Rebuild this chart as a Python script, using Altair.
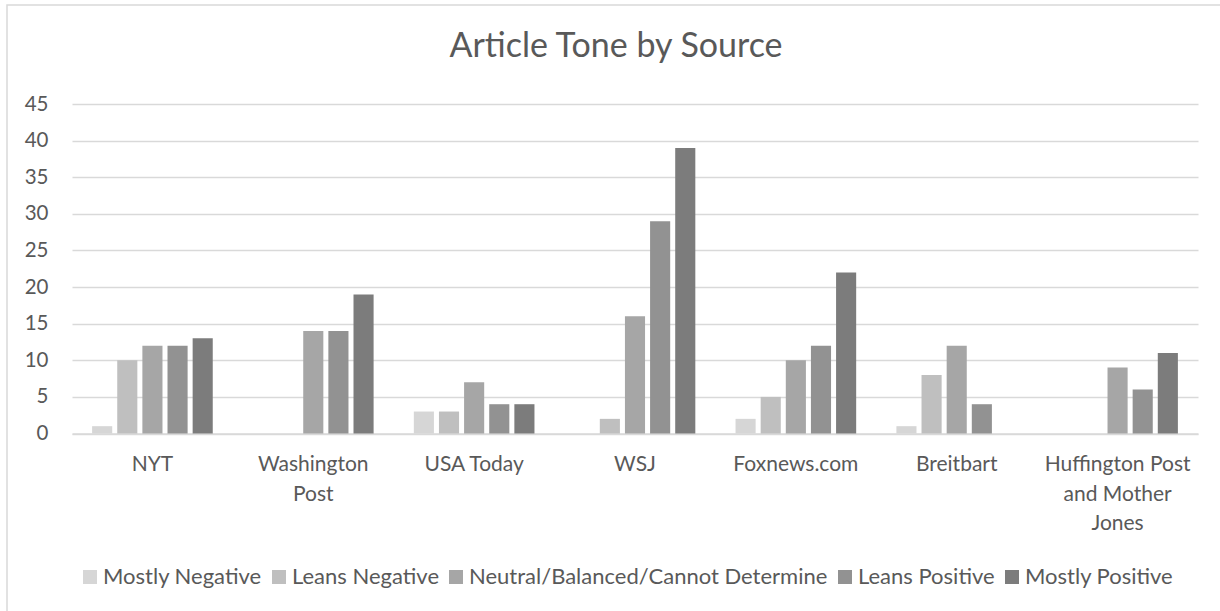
import altair as alt
import pandas as pd

sources = ["NYT", "Washington Post", "USA Today", "WSJ", "Foxnews.com",
           "Breitbart", "Huffington Post and Mother Jones"]
tones = ["Mostly Negative", "Leans Negative", "Neutral/Balanced/Cannot Determine",
         "Leans Positive", "Mostly Positive"]
colors = ["#d6d6d6", "#bfbfbf", "#a6a6a6", "#929292", "#7c7c7c"]

mostly_negative = [1, 0, 3, 0, 2, 1, 0]
leans_negative = [10, 0, 3, 2, 5, 8, 0]
neutral = [12, 14, 7, 16, 10, 12, 9]
leans_positive = [12, 14, 4, 29, 12, 4, 6]
mostly_positive = [13, 19, 4, 39, 22, 0, 11]

y_ticks = [0, 5, 10, 15, 20, 25, 30, 35, 40, 45]

series = [mostly_negative, leans_negative, neutral, leans_positive, mostly_positive]
rows = []
for tone, vals in zip(tones, series):
    for s, v in zip(sources, vals):
        rows.append({"Source": s, "Tone": tone, "Count": v})
df = pd.DataFrame(rows)

FONT = "Lato"
GREY = "#595959"

label_expr = ("datum.label == 'Washington Post' ? ['Washington', 'Post'] : "
              "datum.label == 'Huffington Post and Mother Jones' ? "
              "['Huffington Post', 'and Mother', 'Jones'] : datum.label")

bars = alt.Chart(df).mark_bar().encode(
    x=alt.X("Source:N", sort=sources, title=None,
            scale=alt.Scale(paddingInner=0.25, paddingOuter=0.125),
            axis=alt.Axis(labelExpr=label_expr, labelAngle=0, ticks=False,
                          domainColor="#d9d9d9", domainWidth=1.5,
                          labelFontSize=21, labelColor=GREY, labelFont=FONT,
                          labelPadding=20, labelLineHeight=29.5)),
    xOffset=alt.XOffset("Tone:N", sort=tones,
                        scale=alt.Scale(paddingInner=0.2, paddingOuter=0)),
    y=alt.Y("Count:Q", title=None,
            scale=alt.Scale(domain=[0, 45], nice=False),
            axis=alt.Axis(values=y_ticks, domain=False, ticks=False,
                          gridColor="#d9d9d9", gridWidth=1.5,
                          labelFontSize=20.5, labelColor=GREY, labelFont=FONT,
                          labelPadding=24)),
    color=alt.Color("Tone:N", sort=tones,
                    scale=alt.Scale(domain=tones, range=colors),
                    legend=alt.Legend(title=None, orient="none", direction="horizontal",
                                      legendX=7, legendY=462,
                                      columns=5, symbolType="square", symbolSize=196,
                                      symbolStrokeWidth=0, labelFontSize=22,
                                      labelColor=GREY, labelFont=FONT, labelLimit=0,
                                      columnPadding=6, labelOffset=2)),
)

frame = alt.Chart(pd.DataFrame({"a": [0]})).mark_rect(
    fill=None, stroke="#d9d9d9", strokeWidth=1.5
).encode(x=alt.value(-65), x2=alt.value(1200), y=alt.value(-99), y2=alt.value(600))

chart = alt.layer(frame, bars).properties(
    width=1126, height=329.5,
    title=alt.TitleParams("Article Tone by Source", fontSize=34, font=FONT,
                          color=GREY, fontWeight="normal", anchor="middle",
                          offset=-60, dx=-19),
    autosize=alt.AutoSizeParams(type="none"),
    padding={"left": 72, "top": 104, "right": 22, "bottom": 177},
).configure_view(stroke=None)

chart.save("out.html", embed_options={"renderer": "svg", "actions": False})
